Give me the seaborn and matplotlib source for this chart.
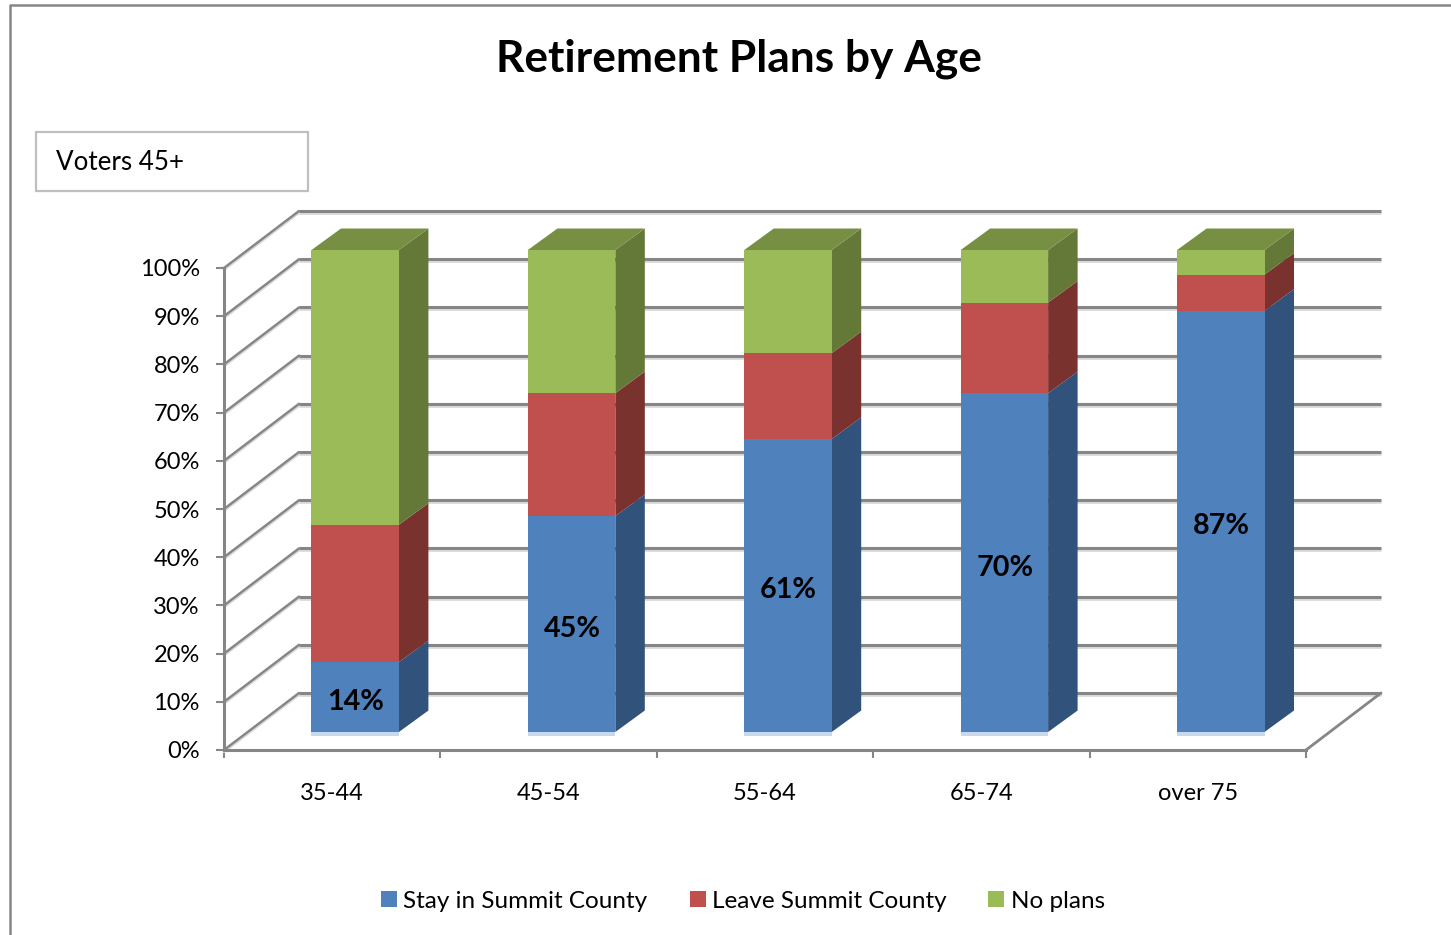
import matplotlib
matplotlib.use("Agg")
import matplotlib.pyplot as plt
import seaborn as sns
from matplotlib.lines import Line2D
from matplotlib.patches import Patch, Polygon, Rectangle
from matplotlib.transforms import Affine2D, IdentityTransform

# === DATA ===
ages = ["35-44", "45-54", "55-64", "65-74", "over 75"]
stay = [14.5, 44.8, 60.8, 70.3, 87.4]
leave = [28.5, 25.5, 17.8, 18.8, 7.5]
no_plans = [57, 29.7, 21.4, 10.9, 5.1]
stay_labels = ["14%", "45%", "61%", "70%", "87%"]
series_names = ["Stay in Summit County", "Leave Summit County", "No plans"]
y_ticks = list(range(0, 101, 10))

# === STYLE ===
sns.set_theme(style="white")
plt.rcParams["font.family"] = ["Lato", "DejaVu Sans"]

front_colors = ["#4F81BD", "#C0504D", "#9BBB59"]
side_colors = ["#31527A", "#7A322F", "#647837"]
top_color = "#778F43"
axis_gray = "#868686"
shadow_gray = "#DADADA"

W, H = 1451, 935
BAR_SHIFT = (23.0, 18)    # front axis -> front of the bars, in pixels
BAR_DEPTH = (29.5, 21.5)  # front of the bars -> back of the bars
WALL_DEPTH = (75, 57)     # front axis -> back wall

fig = plt.figure(figsize=(W / 100, H / 100), dpi=100, facecolor="white")
ax = fig.add_axes([224 / W, 1 - 750 / H, (1306 - 224) / W, (750 - 268) / H])
ax.patch.set_alpha(0)


def px(x, y):
    return ax.transData.transform((x, y))


# === STACKED BARS (front faces) ===
bottoms = [0.0] * len(ages)
stacks = []
for name, values, color in zip(series_names, [stay, leave, no_plans], front_colors):
    sns.barplot(x=ages, y=values, bottom=bottoms, color=color, saturation=1,
                width=0.404, ax=ax, zorder=5, linewidth=0, clip_on=False)
    stacks.append((values, list(bottoms)))
    bottoms = [b + v for b, v in zip(bottoms, values)]

ax.set_xlim(-0.5, 4.5)
ax.set_ylim(0, 100)

shift = ax.transData + Affine2D().translate(*BAR_SHIFT)
for container in ax.containers:
    for bar in container:
        bar.set_transform(shift)

# === BACK WALL, GRID LINES AND FLOOR ===
wx, wy = WALL_DEPTH
for tick in y_ticks:
    x0, y0 = px(-0.5, tick)
    x1, _ = px(4.5, tick)
    for off, color, lw in [(-2, shadow_gray, 2.0), (0, axis_gray, 2.2)]:
        ax.add_line(Line2D([x0 + wx, x1 + wx], [y0 + wy + off] * 2, color=color, lw=lw,
                           transform=IdentityTransform(), clip_on=False, zorder=1,
                           solid_capstyle="butt"))
        ax.add_line(Line2D([x0, x0 + wx], [y0 + off, y0 + wy + off], color=color, lw=lw * 0.8,
                           transform=IdentityTransform(), clip_on=False, zorder=1))
x0, y0 = px(4.5, 0)
ax.add_line(Line2D([x0, x0 + wx], [y0, y0 + wy], color=axis_gray, lw=2.0,
                   transform=IdentityTransform(), clip_on=False, zorder=1))

# === 3D FACES OF THE BARS ===
half = 0.404 / 2
dx, dy = BAR_DEPTH
sx, sy = BAR_SHIFT
for (values, bases), color in zip(stacks, side_colors):
    for i, (v, b) in enumerate(zip(values, bases)):
        xr, y_low = px(i + half, b)
        _, y_high = px(i + half, b + v)
        xr, y_low, y_high = xr + sx, y_low + sy, y_high + sy
        ax.add_patch(Polygon([(xr, y_low), (xr + dx, y_low + dy), (xr + dx, y_high + dy), (xr, y_high)],
                             transform=IdentityTransform(), facecolor=color, edgecolor="none",
                             clip_on=False, zorder=4))

for i, total in enumerate(bottoms):
    xl, yt = px(i - half, total)
    xr, _ = px(i + half, total)
    xl, xr, yt = xl + sx, xr + sx, yt + sy
    ax.add_patch(Polygon([(xl, yt), (xr, yt), (xr + dx, yt + dy), (xl + dx, yt + dy)],
                         transform=IdentityTransform(), facecolor=top_color, edgecolor="none",
                         clip_on=False, zorder=4))
    # pale strip under each bar
    xl0, y_base = px(i - half, 0)
    xr0, _ = px(i + half, 0)
    ax.add_patch(Rectangle((xl0 + sx, y_base + sy - 3.5), xr0 - xl0, 3.5,
                           transform=IdentityTransform(), facecolor="#C9D9EC", edgecolor="none",
                           clip_on=False, zorder=4))

# === DATA LABELS ===
for i, (v, text) in enumerate(zip(stay, stay_labels)):
    ax.text(i, v / 2, text, transform=shift + Affine2D().translate(0.5, -5), ha="center", va="center",
            fontsize=20.7, fontweight="bold", color="black", zorder=6)

# === AXES ===
sns.despine(ax=ax, top=True, right=True)
for side in ["left", "bottom"]:
    ax.spines[side].set_color(axis_gray)
    ax.spines[side].set_linewidth(2.2)
ax.set_yticks(y_ticks)
ax.set_yticklabels([f"{t}%" for t in y_ticks])
ax.set_xticks(range(len(ages)))
ax.set_xticklabels(ages)
ax.set_xticks([i - 0.5 for i in range(len(ages) + 1)], minor=True)
ax.tick_params(axis="y", length=6, width=1.5, color=axis_gray, pad=11.5, labelsize=17, labelcolor="black", left=True)
ax.tick_params(axis="x", which="major", length=0, pad=23.7, labelsize=17, labelcolor="black")
ax.tick_params(axis="x", which="minor", length=6, width=1.5, color=axis_gray, bottom=True)
ax.set_xlabel("")
ax.set_ylabel("")

# === TITLE, NOTE BOX, FRAME ===
fig.text(738.5 / W, 1 - 59 / H, "Retirement Plans by Age", ha="center", va="center",
         fontsize=31.9, fontweight="bold", color="black")
fig.add_artist(Rectangle((36 / W, 1 - 190.5 / H), 272 / W, 58.5 / H, transform=fig.transFigure,
                         facecolor="white", edgecolor="#BFBFBF", lw=1.6))
fig.text(56 / W, 1 - 163 / H, "Voters 45+", ha="left", va="center", fontsize=18.7, color="black")
fig.add_artist(Line2D([10 / W, 10 / W, 1], [0, 1 - 5 / H, 1 - 5 / H], transform=fig.transFigure,
                      color=axis_gray, lw=1.8))

# === LEGEND ===
handles = [Patch(facecolor=c, edgecolor="none") for c in front_colors]
fig.legend(handles, series_names, loc="center", bbox_to_anchor=(743 / W, 1 - 901 / H), ncol=3, frameon=False,
           fontsize=17.5, handlelength=0.66, handleheight=0.66, handletextpad=0.25, columnspacing=1.73,
           labelcolor="black")

plt.savefig("out.png", dpi=100)
plt.close()
